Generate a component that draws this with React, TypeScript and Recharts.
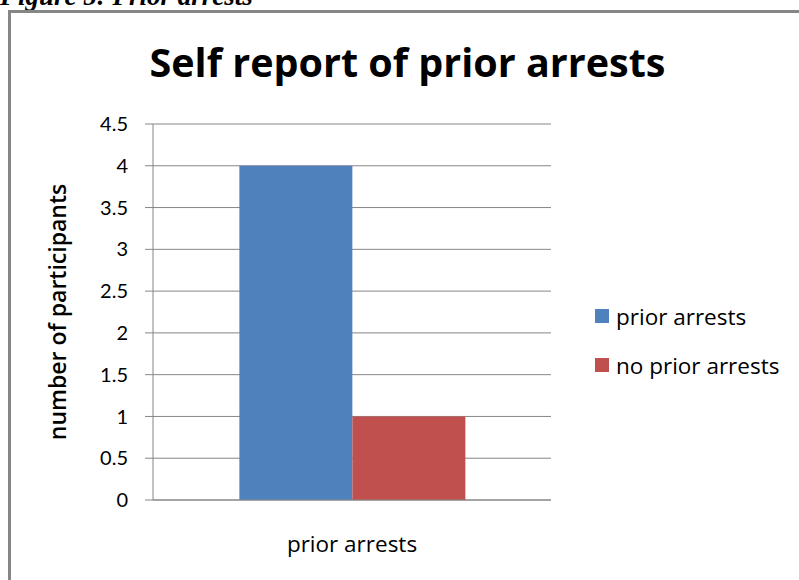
import React from 'react';
import { BarChart, Bar, XAxis, YAxis, CartesianGrid, Label } from 'recharts';

const categories = ['prior arrests'];
const priorArrests = [4];
const noPriorArrests = [1];
const yTicks = [0, 0.5, 1, 1.5, 2, 2.5, 3, 3.5, 4, 4.5];

const series = [
  { key: 'prior', name: 'prior arrests', color: '#4F81BD', values: priorArrests },
  { key: 'none', name: 'no prior arrests', color: '#C0504D', values: noPriorArrests },
];

const data = categories.map((c, i) => ({
  category: c,
  prior: priorArrests[i],
  none: noPriorArrests[i],
}));

const FONT = '"Open Sans", Lato, sans-serif';
const TICK_FONT = 'Lato, "Open Sans", sans-serif';
const GRAY = '#868686';

export default function App() {
  return (
    <div style={{ position: 'absolute', left: 0, top: 0, width: 799, height: 580, overflow: 'hidden', background: '#fff' }}>
      {/* caption cut off at top */}
      <div
        style={{
          position: 'absolute', left: 0, top: -19, fontFamily: '"Liberation Serif", "Times New Roman", serif',
          fontWeight: 'bold', fontStyle: 'italic', fontSize: 27, whiteSpace: 'nowrap', lineHeight: '30px',
        }}
      >
        Figure 5: Prior arrests
      </div>
      {/* chart frame */}
      <div style={{ position: 'absolute', left: 8, top: 10, width: 820, height: 600, borderLeft: `3px solid ${GRAY}`, borderTop: `3px solid ${GRAY}` }} />
      <div
        style={{
          position: 'absolute', left: 0, width: 815, top: 36, textAlign: 'center', fontFamily: FONT,
          fontWeight: 'bold', fontSize: 39.5, lineHeight: '52px', color: '#000', whiteSpace: 'nowrap',
        }}
      >
        Self report of prior arrests
      </div>
      <div style={{ position: 'absolute', left: 0, top: 0 }}>
        <BarChart
          width={799}
          height={580}
          data={data}
          margin={{ top: 124, right: 248, bottom: 35, left: 0 }}
          barCategoryGap="21.7%"
          barGap={0}
        >
          <CartesianGrid vertical={false} stroke={GRAY} strokeWidth={1} />
          <XAxis
            dataKey="category"
            height={45}
            tickLine={false}
            axisLine={{ stroke: GRAY }}
            tickMargin={30}
            tick={{ fontSize: 22.5, fill: '#000', fontFamily: FONT }}
          />
          <YAxis
            width={153}
            domain={[0, 4.5]}
            ticks={yTicks}
            interval={0}
            tickSize={8}
            tickMargin={17}
            axisLine={{ stroke: GRAY }}
            tickLine={{ stroke: GRAY }}
            tick={{ fontSize: 20, fill: '#000', fontFamily: TICK_FONT }}
          >
            <Label
              value="number of participants"
              angle={-90}
              position="insideLeft"
              offset={58}
              style={{ fontSize: 23, fontWeight: 600, fill: '#000', fontFamily: FONT, textAnchor: 'middle' }}
            />
          </YAxis>
          {series.map((s) => (
            <Bar key={s.key} dataKey={s.key} name={s.name} fill={s.color} isAnimationActive={false} />
          ))}
        </BarChart>
      </div>
      {/* legend */}
      <div style={{ position: 'absolute', left: 595, top: 302, fontFamily: FONT, fontSize: 22.5, color: '#000' }}>
        {series.map((s) => (
          <div key={s.key} style={{ display: 'flex', alignItems: 'center', height: 28, marginBottom: 21 }}>
            <div style={{ width: 14, height: 14, background: s.color, marginRight: 7 }} />
            <span style={{ whiteSpace: 'nowrap' }}>{s.name}</span>
          </div>
        ))}
      </div>
    </div>
  );
}
